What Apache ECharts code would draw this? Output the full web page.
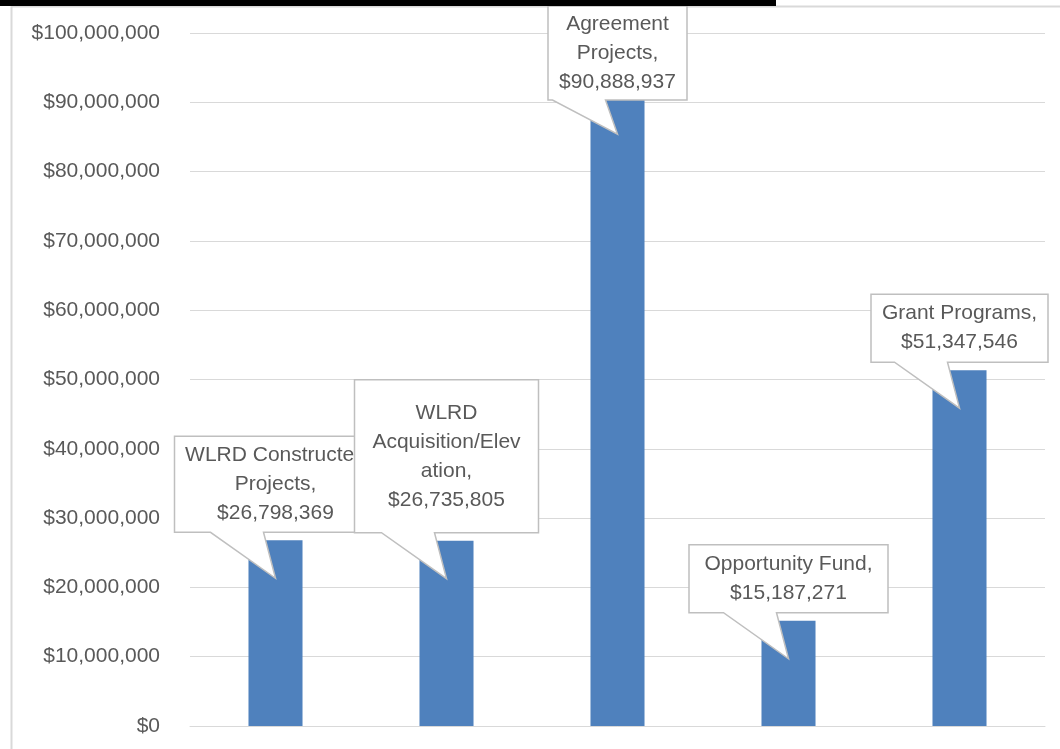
<!DOCTYPE html>
<html>
<head>
<meta charset="utf-8">
<script src="https://cdn.jsdelivr.net/npm/echarts@6/dist/echarts.min.js"></script>
<style>
  html, body { margin: 0; padding: 0; background: #fff; }
  #main { width: 1060px; height: 749px; }
</style>
</head>
<body>
<div id="main"></div>
<script>
// data
var categories = ['WLRD Constructed Projects', 'WLRD Acquisition/Elevation', 'Agreement Projects', 'Opportunity Fund', 'Grant Programs'];
var amounts = [26798369, 26735805, 90888937, 15187271, 51347546];
// callout text, wrapped the way the reference wraps it
var calloutNames = ['WLRD Constructed\nProjects,', 'WLRD\nAcquisition/Elev\nation,', 'Agreement\nProjects,', 'Opportunity Fund,', 'Grant Programs,'];

// callout box sizes (style only)
var boxW = [202, 184, 139, 199, 177];
var boxH = [96, 153, 94, 68, 68];

var FONT = 'Liberation Sans';
var TXT = '#595959';
var GRID = '#d9d9d9';

function money(v) {
    return '$' + v.toLocaleString('en-US');
}

var myChart = echarts.init(document.getElementById('main'));

var option = {
    animation: false,
    grid: {
        left: 190,
        right: 15,
        top: 33,
        bottom: 23
    },
    xAxis: {
        type: 'category',
        data: categories,
        axisLine: { lineStyle: { color: GRID, width: 1 } },
        axisTick: { show: false },
        axisLabel: { show: false }
    },
    yAxis: {
        type: 'value',
        min: 0,
        max: 100000000,
        interval: 10000000,
        axisLine: { show: false },
        axisTick: { show: false },
        axisLabel: {
            margin: 30,
            color: TXT,
            fontFamily: FONT,
            fontSize: 21,
            formatter: function (v) { return money(v); }
        },
        splitLine: { lineStyle: { color: GRID, width: 1 } }
    },
    series: [{
        type: 'bar',
        barWidth: '31.6%',
        itemStyle: { color: '#4f81bd' },
        data: amounts
    }]
};
myChart.setOption(option);

// frame + cut-off title underline + callouts
function buildGraphics() {
    var graphics = [
        { type: 'line', shape: { x1: 11.5, y1: 6, x2: 11.5, y2: 749 }, style: { stroke: GRID, lineWidth: 2 }, z: 1 },
        { type: 'line', shape: { x1: 11, y1: 6.5, x2: 1060, y2: 6.5 }, style: { stroke: GRID, lineWidth: 2 }, z: 1 },
        { type: 'rect', shape: { x: 0, y: 0, width: 776, height: 6 }, style: { fill: '#000' }, z: 200 }
    ];

    for (var i = 0; i < amounts.length; i++) {
        var p = myChart.convertToPixel({ seriesIndex: 0 }, [i, amounts[i]]);
        var cx = p[0], barTop = p[1];
        var w = boxW[i], h = boxH[i];
        var boxTop = Math.max(6, barTop - 8 - h);
        var boxBottom = boxTop + h;
        var boxLeft = cx - w / 2, boxRight = cx + w / 2;
        var tipY = barTop + 38;
        var pts = [
            [boxLeft, boxTop], [boxRight, boxTop], [boxRight, boxBottom],
            [cx - 12, boxBottom], [cx, tipY], [cx - 65, boxBottom],
            [boxLeft, boxBottom]
        ];
        var text = calloutNames[i] + '\n' + money(amounts[i]);
        var nLines = text.split('\n').length;
        graphics.push({
            type: 'polygon',
            shape: { points: pts },
            style: { fill: '#fff', stroke: '#bfbfbf', lineWidth: 1.5 },
            z: 10 + i * 2
        });
        graphics.push({
            type: 'text',
            style: {
                text: text,
                x: cx,
                y: boxTop + h / 2 - nLines * 29 / 2,
                align: 'center',
                verticalAlign: 'top',
                lineHeight: 29,
                fontSize: 21,
                fontFamily: FONT,
                fill: TXT
            },
            z: 11 + i * 2
        });
    }
    return graphics;
}

myChart.setOption({ graphic: buildGraphics() });
</script>
</body>
</html>
